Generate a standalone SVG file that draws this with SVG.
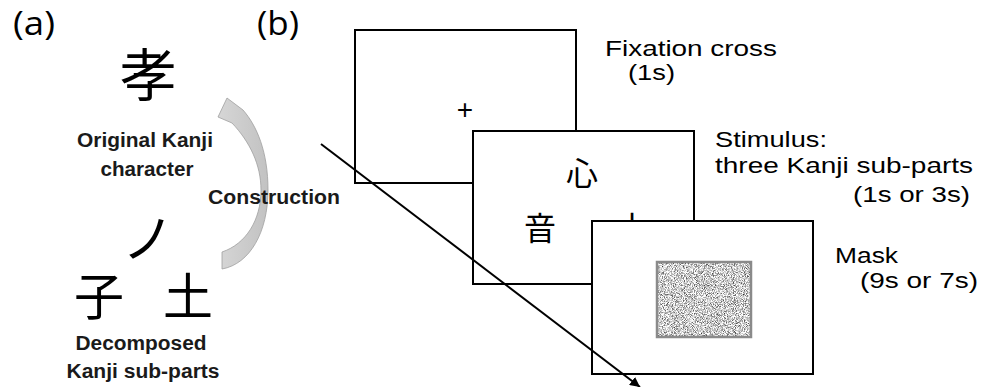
<svg xmlns="http://www.w3.org/2000/svg" width="993" height="387" viewBox="0 0 993 387">
<defs>
<style>
.lbl{font-family:"Open Sans","Noto Sans",sans-serif;font-size:33px;fill:#000}
.kj{font-family:"Noto Sans CJK JP","Noto Sans CJK SC",sans-serif;fill:#000}
.bd{font-family:"Liberation Sans",Arial,sans-serif;font-weight:bold;font-size:20px;fill:#1a1a1a}
.rg{font-family:"Liberation Sans",Arial,sans-serif;font-size:22px;fill:#000}
.scr{fill:#fff;stroke:#000;stroke-width:2}
</style>
<linearGradient id="ga" x1="0" y1="0" x2="1" y2="0">
<stop offset="0" stop-color="#d6d6d6"/>
<stop offset="1" stop-color="#c2c2c2"/>
</linearGradient>
<filter id="noise" x="0" y="0" width="100%" height="100%" color-interpolation-filters="sRGB">
<feTurbulence type="fractalNoise" baseFrequency="1.1" numOctaves="2" seed="4" result="t"/>
<feColorMatrix in="t" type="matrix" values="1.7 0 0 0 -0.05  1.7 0 0 0 -0.05  1.7 0 0 0 -0.05  0 0 0 0 1"/>
<feComposite in2="SourceGraphic" operator="in"/>
</filter>
<marker id="ah" markerWidth="12" markerHeight="10" refX="10" refY="5" orient="auto" markerUnits="userSpaceOnUse">
<path d="M0,0 L10,5 L0,10 Z" fill="#000"/>
</marker>
</defs>
<rect width="993" height="387" fill="#fff"/>

<g id="panel-a-label"><text class="lbl" x="13" y="35" textLength="42" lengthAdjust="spacingAndGlyphs">(a)</text></g>
<g id="panel-b-label"><text class="lbl" x="257" y="35" textLength="42" lengthAdjust="spacingAndGlyphs">(b)</text></g>

<g id="original">
<text class="kj" x="148" y="96" font-size="57" text-anchor="middle">孝</text>
<text class="bd" x="145" y="147" text-anchor="middle" textLength="136" lengthAdjust="spacingAndGlyphs">Original Kanji</text>
<text class="bd" x="147" y="176" text-anchor="middle" textLength="93" lengthAdjust="spacingAndGlyphs">character</text>
</g>

<g id="decomposed">
<text class="kj" x="148" y="258" font-size="52" text-anchor="middle">ノ</text>
<text class="kj" x="99" y="315" font-size="50" text-anchor="middle">子</text>
<text class="kj" x="188" y="315" font-size="50" text-anchor="middle">土</text>
<text class="bd" x="141" y="350" text-anchor="middle" textLength="131" lengthAdjust="spacingAndGlyphs">Decomposed</text>
<text class="bd" x="143" y="378" text-anchor="middle" textLength="153" lengthAdjust="spacingAndGlyphs">Kanji sub-parts</text>
</g>

<g id="screen-fixation">
<rect class="scr" x="355" y="30" width="221" height="153"/>
<text class="rg" x="465" y="119" style="font-size:28px" text-anchor="middle">+</text>
<text class="rg" x="605" y="56" textLength="172" lengthAdjust="spacingAndGlyphs">Fixation cross</text>
<text class="rg" x="628" y="80" textLength="47" lengthAdjust="spacingAndGlyphs">(1s)</text>
</g>

<g id="screen-stimulus">
<rect class="scr" x="473" y="131" width="221" height="153"/>
<text class="kj" x="582" y="185" font-size="32" text-anchor="middle">心</text>
<text class="kj" x="540" y="240" font-size="32" text-anchor="middle">音</text>
<text class="kj" x="632" y="240" font-size="32" text-anchor="middle">十</text>
<text class="rg" x="715" y="147" textLength="112" lengthAdjust="spacingAndGlyphs">Stimulus:</text>
<text class="rg" x="715" y="173" textLength="258" lengthAdjust="spacingAndGlyphs">three Kanji sub-parts</text>
<text class="rg" x="853" y="202" textLength="117" lengthAdjust="spacingAndGlyphs">(1s or 3s)</text>
</g>

<g id="screen-mask">
<rect class="scr" x="592" y="221" width="221" height="153"/>
<rect x="657" y="262" width="94" height="75" fill="#bbb" filter="url(#noise)"/>
<rect x="657" y="262" width="94" height="75" fill="none" stroke="#8a8a8a" stroke-width="2.5"/>
<text class="rg" x="835" y="263" textLength="63" lengthAdjust="spacingAndGlyphs">Mask</text>
<text class="rg" x="860" y="288" textLength="118" lengthAdjust="spacingAndGlyphs">(9s or 7s)</text>
</g>

<g id="connectors">
<path d="M222,269 C250,264 268,232 268,190 C268,152 257,126 243,110 L227,98 L218,117 L232,123 C250,142 261,165 261,190 C261,220 246,244 222,252 Z" fill="url(#ga)" stroke="#a0a0a0" stroke-width="0.8"/>
<line x1="321" y1="144" x2="640" y2="387" stroke="#000" stroke-width="2" marker-end="url(#ah)"/>
</g>

<g id="construction-label">
<text class="bd" x="208" y="204" textLength="132" lengthAdjust="spacingAndGlyphs">Construction</text>
</g>
</svg>
